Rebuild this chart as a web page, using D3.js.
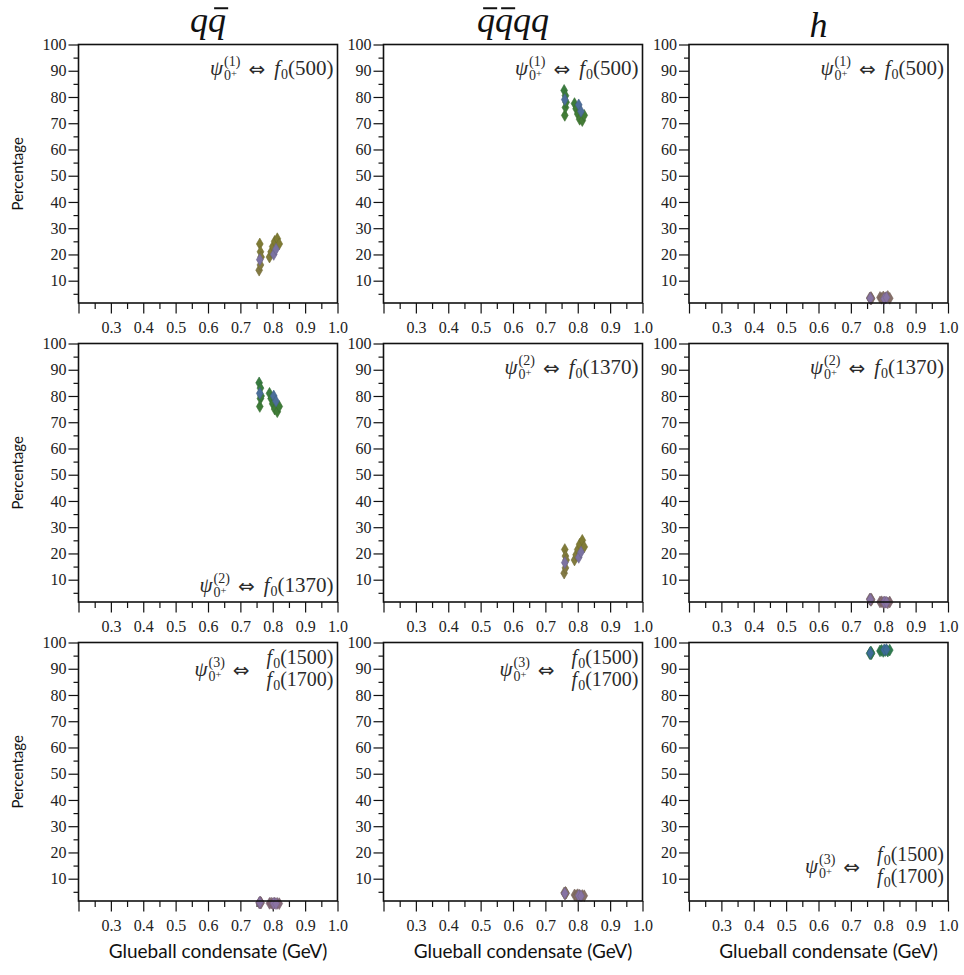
<!DOCTYPE html>
<html>
<head>
<meta charset="utf-8">
<script src="https://cdn.jsdelivr.net/npm/d3@7"></script>
<style>
  body { margin: 0; background: #fff; }
  svg { display: block; }
</style>
</head>
<body>
<svg id="chart" width="964" height="975"></svg>
<script>
// Glueball condensate (GeV) for each parameter set (two clusters of fits)
const condensate = [0.758, 0.760, 0.760, 0.762, 0.762, 0.764, 0.790, 0.795, 0.800, 0.803, 0.806, 0.810, 0.814, 0.820];

// Percentage content of each scalar state psi_{0+}^{(n)}: quark-antiquark, tetraquark, glueball
const qqbarPsi1  = [14, 24, 18, 21, 16, 19, 19, 21, 23, 20, 25, 22, 26, 24];
const tetraPsi1  = [82.5, 73, 79, 76, 80.5, 78, 77.5, 75.5, 73.5, 77, 71.5, 74.5, 71, 73];
const gluePsi1   = [3.4, 3.2, 3.3, 3.0, 3.6, 3.2, 3.6, 3.3, 3.8, 3.1, 3.5, 3.6, 4.0, 3.3];

const qqbarPsi2  = [85, 76, 81, 79, 83, 80, 81, 79, 77, 80, 75, 78, 74, 76];
const tetraPsi2  = [12.5, 21.5, 16.5, 19, 14.5, 17.5, 17.5, 19.5, 21.5, 18.5, 23.5, 20.5, 25, 22.5];
const gluePsi2   = [2.6, 2.3, 2.5, 2.1, 2.7, 2.4, 1.5, 1.6, 1.3, 1.5, 1.4, 1.4, 1.2, 1.5];

const qqbarPsi3  = [0.8, 1.0, 0.9, 0.7, 1.1, 0.8, 0.6, 0.7, 0.5, 0.6, 0.7, 0.5, 0.6, 0.5];
const tetraPsi3  = [4.6, 4.2, 4.4, 4.8, 4.3, 4.5, 3.8, 3.6, 3.9, 3.5, 3.7, 3.4, 3.6, 3.5];
const gluePsi3   = [95.8, 96.2, 96.0, 95.6, 96.4, 95.9, 96.8, 97.0, 96.6, 97.2, 96.9, 97.3, 96.7, 97.1];

// Fits drawn with the highlight colour on top of the others
const highlighted = [2, 9, 11];

// Column headings (combining macron marks an antiquark), state numbers and assigned mesons
const componentTitles = ["qq\u0304", "q\u0304q\u0304qq", "h"];
const stateNumbers = [1, 2, 3];
const stateMesons = [["500"], ["1370"], ["1500", "1700"]];

// Axis ticks
const xTicks = [0.2, 0.3, 0.4, 0.5, 0.6, 0.7, 0.8, 0.9, 1.0];
const xMinorTicks = [0.25, 0.35, 0.45, 0.55, 0.65, 0.75, 0.85, 0.95];
const yTicks = [10, 20, 30, 40, 50, 60, 70, 80, 90, 100];
const yMinorTicks = [5, 15, 25, 35, 45, 55, 65, 75, 85, 95];

const xLabel = "Glueball condensate (GeV)";
const yLabel = "Percentage";

// rows: states, columns: components
const composition = [
  [qqbarPsi1, tetraPsi1, gluePsi1],
  [qqbarPsi2, tetraPsi2, gluePsi2],
  [qqbarPsi3, tetraPsi3, gluePsi3]
];

// ---------------------------------------------------------------- layout
const SERIF = "'Liberation Serif', 'Times New Roman', serif";
const SANS = "Lato, 'Open Sans', sans-serif";
const panelLeft = [78.5, 383.5, 689];
const panelTop = [44.5, 343.5, 642.5];
const panelW = 259;
const panelH = 258.5;
// which corner holds the state label of each panel
const labelCorner = [
  ["top", "top", "top"],
  ["bottom", "top", "top"],
  ["top", "top", "bottom"]
];

const mainColour = d3.scaleLinear()
  .domain([0, 8, 25, 75, 100])
  .range(["#86687c", "#857a4c", "#7f7b33", "#3f7c36", "#2d7b52"]);
const coreColour = d3.scaleLinear()
  .domain([0, 100])
  .range(["#8a73a3", "#3b6d98"]);

const svg = d3.select("#chart");
const diamond = d3.symbol().type(d3.symbolDiamond).size(40);

function stateLabel(g, n, mesons, xRight, yBase) {
  const small = 14;
  const two = mesons.length > 1;
  const fs = two ? 20 : 21;
  const lab = g.append("g").attr("fill", "#2b2b2b").attr("font-family", SERIF);
  const psi = lab.append("text").attr("font-style", "italic").attr("font-size", 21).text("\u03C8");
  const wPsi = psi.node().getComputedTextLength();
  const sup = lab.append("text").attr("x", wPsi + 1).attr("y", -9).attr("font-size", small).text(`(${n})`);
  const sub = lab.append("text").attr("x", wPsi + 1).attr("y", 5).attr("font-size", small);
  sub.append("tspan").text("0");
  sub.append("tspan").attr("font-size", 10.5).attr("dy", -3).text("+");
  const wScript = Math.max(sup.node().getComputedTextLength(), sub.node().getComputedTextLength());
  const arrowX = wPsi + 1 + wScript + 8;
  const arrow = lab.append("text").attr("x", arrowX).attr("y", 1)
    .attr("font-family", "'DejaVu Sans', sans-serif").attr("font-size", 20).text("\u21D4");
  const wArrow = arrow.node().getComputedTextLength();
  const colX = arrowX + wArrow + (two ? 17 : 9);
  const lines = mesons.map((m, i) => {
    const t = lab.append("text").attr("font-size", fs).attr("y", two ? (i === 0 ? -12 : 10) : 0);
    t.append("tspan").attr("font-style", "italic").text("f");
    t.append("tspan").attr("font-size", small).attr("dy", 4).attr("dx", 1).text("0");
    t.append("tspan").attr("dy", -4).text(`(${m})`);
    return t;
  });
  const widths = lines.map(t => t.node().getComputedTextLength());
  const wMax = d3.max(widths);
  lines.forEach((t, i) => t.attr("x", colX + wMax - widths[i]));
  lab.attr("transform", `translate(${xRight - (colX + wMax)},${yBase})`);
}

function columnTitle(cx, baseline, str) {
  const chars = [];
  const barred = [];
  for (const ch of str) {
    if (ch === "\u0304") { barred[chars.length - 1] = true; continue; }
    chars.push(ch);
  }
  const fs = 36;
  const t = svg.append("text")
    .attr("x", cx).attr("y", baseline)
    .attr("text-anchor", "middle")
    .attr("font-family", SERIF).attr("font-style", "italic")
    .attr("font-size", fs).attr("fill", "#111")
    .text(chars.join(""));
  chars.forEach((ch, i) => {
    if (!barred[i]) return;
    const ext = t.node().getExtentOfChar(i);
    svg.append("line")
      .attr("x1", ext.x + 0.17 * fs).attr("x2", ext.x + ext.width + 0.06 * fs)
      .attr("y1", baseline - 0.66 * fs).attr("y2", baseline - 0.66 * fs)
      .attr("stroke", "#111").attr("stroke-width", 2);
  });
}

componentTitles.forEach((title, c) => {
  const hasDescender = title.includes("q");
  columnTitle(panelLeft[c] + panelW / 2, hasDescender ? 32 : 37, title);
});

composition.forEach((row, r) => {
  row.forEach((values, c) => {
    const x0 = panelLeft[c], y0 = panelTop[r];
    const x = d3.scaleLinear().domain([0.2, 1.0]).range([x0, x0 + panelW]);
    const y = d3.scaleLinear().domain([1.5, 100]).range([y0 + panelH, y0]);
    const g = svg.append("g");

    // axes
    const styleAxis = sel => {
      sel.select(".domain").remove();
      sel.selectAll(".tick line").attr("stroke", "#111").attr("stroke-width", 1.2);
      sel.selectAll(".tick text").attr("fill", "#222").attr("font-family", SERIF).attr("font-size", 16);
    };
    g.append("g").attr("transform", `translate(${x0},0)`)
      .call(d3.axisLeft(y).tickValues(yTicks).tickSize(10).tickPadding(2).tickFormat(d3.format("d")))
      .call(styleAxis);
    g.append("g").attr("transform", `translate(${x0},0)`)
      .call(d3.axisLeft(y).tickValues(yMinorTicks).tickSize(5).tickFormat(""))
      .call(styleAxis);
    g.append("g").attr("transform", `translate(0,${y0 + panelH})`)
      .call(d3.axisBottom(x).tickValues(xTicks).tickSize(10.5).tickPadding(8)
        .tickFormat(d => d < 0.25 ? "" : d3.format(".1f")(d)))
      .call(styleAxis);
    g.append("g").attr("transform", `translate(0,${y0 + panelH})`)
      .call(d3.axisBottom(x).tickValues(xMinorTicks).tickSize(6).tickFormat(""))
      .call(styleAxis);

    // points
    const pts = condensate.map((cv, i) => ({ cv, v: values[i], core: highlighted.includes(i) }));
    const order = pts.filter(d => !d.core).concat(pts.filter(d => d.core));
    g.append("g").selectAll("path").data(order).join("path")
      .attr("d", diamond)
      .attr("transform", d => `translate(${x(d.cv)},${y(d.v)})`)
      .attr("fill", d => d.core ? coreColour(d.v) : mainColour(d.v))
      .attr("stroke", d => d3.color(d.core ? coreColour(d.v) : mainColour(d.v)).darker(0.4))
      .attr("stroke-width", 0.6);

    // frame
    g.append("rect")
      .attr("x", x0).attr("y", y0).attr("width", panelW).attr("height", panelH)
      .attr("fill", "none").attr("stroke", "#111").attr("stroke-width", 1.6);

    // state label
    const two = stateMesons[r].length > 1;
    const corner = labelCorner[r][c];
    const yBase = corner === "top"
      ? y0 + (two ? 33 : 30)
      : y0 + panelH - (two ? 28 : 10);
    stateLabel(g, stateNumbers[r], stateMesons[r], x0 + panelW - 5, yBase);
  });

  // y axis title
  svg.append("text")
    .attr("transform", `translate(23,${panelTop[r] + panelH / 2}) rotate(-90)`)
    .attr("text-anchor", "middle")
    .attr("font-family", SANS).attr("font-size", 15).attr("fill", "#111")
    .text(yLabel);
});

panelLeft.forEach(x0 => {
  svg.append("text")
    .attr("x", x0 + panelW / 2 + 10).attr("y", 958)
    .attr("text-anchor", "middle")
    .attr("font-family", SANS).attr("font-size", 19).attr("fill", "#111")
    .text(xLabel);
});
</script>
</body>
</html>
